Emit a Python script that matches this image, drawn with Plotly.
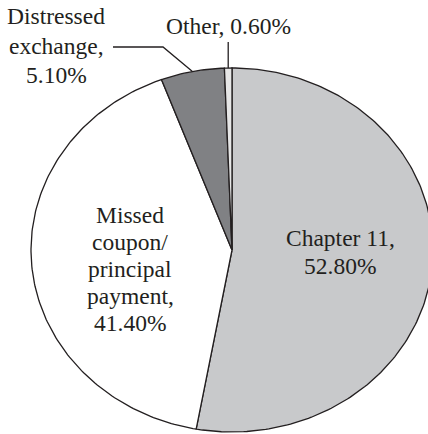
import numpy as np
import plotly.graph_objects as go

# Share of defaults by type (%)
categories = ["Chapter 11", "Missed coupon/ principal payment", "Distressed exchange", "Other"]
shares = [52.80, 41.40, 5.10, 0.60]
label_lines = [["Chapter 11,"], ["Missed", "coupon/", "principal", "payment,"],
               ["Distressed", "exchange,"], ["Other,"]]

slice_colors = ["#c8c9cb", "#ffffff", "#808184", "#e6e6e6"]
outline = "#231f20"
FONT = "Liberation Serif"
FONT_SIZE = 23.5

W, H = 428, 434
CX, CY, RX, RY = 232, 250, 201, 182   # pie centre and radii in pixels


def to_x(px):
    return (px - CX) / RX


def to_y(py):
    return (CY - py) / RY


fig = go.Figure()

total = sum(shares)
start = 0.0
mids = []
for name, val, col in zip(categories, shares, slice_colors):
    sweep = 2 * np.pi * val / total
    t = np.linspace(start, start + sweep, max(3, int(val * 4)))
    xs = np.concatenate([[0], np.sin(t), [0]])
    ys = np.concatenate([[0], np.cos(t), [0]])
    fig.add_trace(go.Scatter(x=xs, y=ys, mode="lines", fill="toself",
                             fillcolor=col, line=dict(color=outline, width=1.3),
                             name=name, hoverinfo="name", showlegend=False))
    mids.append(start + sweep / 2)
    start += sweep

# text lines of each label, the value line last
label_texts = [lines + [f"{v:.2f}%"] for lines, v in zip(label_lines[:3], shares[:3])]
label_texts.append([f"{label_lines[3][0]} {shares[3]:.2f}%"])

# label layout: centre x, first line centre y, line pitch (pixels)
label_pos = [(340, 238, 28), (130, 215, 27), (56, 16, 29.5), (228, 26, 0)]
for lines, (px, py, pitch) in zip(label_texts, label_pos):
    for k, line in enumerate(lines):
        fig.add_annotation(x=to_x(px), y=to_y(py + k * pitch), text=line,
                           showarrow=False, xanchor="center", yanchor="middle",
                           font=dict(family=FONT, size=FONT_SIZE, color="#231f20"))

# leader lines to the two thin slices
m_other = mids[3]
fig.add_trace(go.Scatter(x=[np.sin(m_other), np.sin(m_other)],
                         y=[np.cos(m_other), to_y(42)],
                         mode="lines", line=dict(color=outline, width=1.3),
                         hoverinfo="skip", showlegend=False))
m_dist = mids[2]
fig.add_trace(go.Scatter(x=[to_x(113), to_x(163), np.sin(m_dist)],
                         y=[to_y(47), to_y(47), np.cos(m_dist)],
                         mode="lines", line=dict(color=outline, width=1.3),
                         hoverinfo="skip", showlegend=False))

fig.update_layout(
    width=W, height=H, margin=dict(l=0, r=0, t=0, b=0),
    paper_bgcolor="white", plot_bgcolor="white",
    xaxis=dict(range=[to_x(0), to_x(W)], visible=False, fixedrange=True),
    yaxis=dict(range=[to_y(H), to_y(0)], visible=False, fixedrange=True),
)

fig.write_html("out.html")
